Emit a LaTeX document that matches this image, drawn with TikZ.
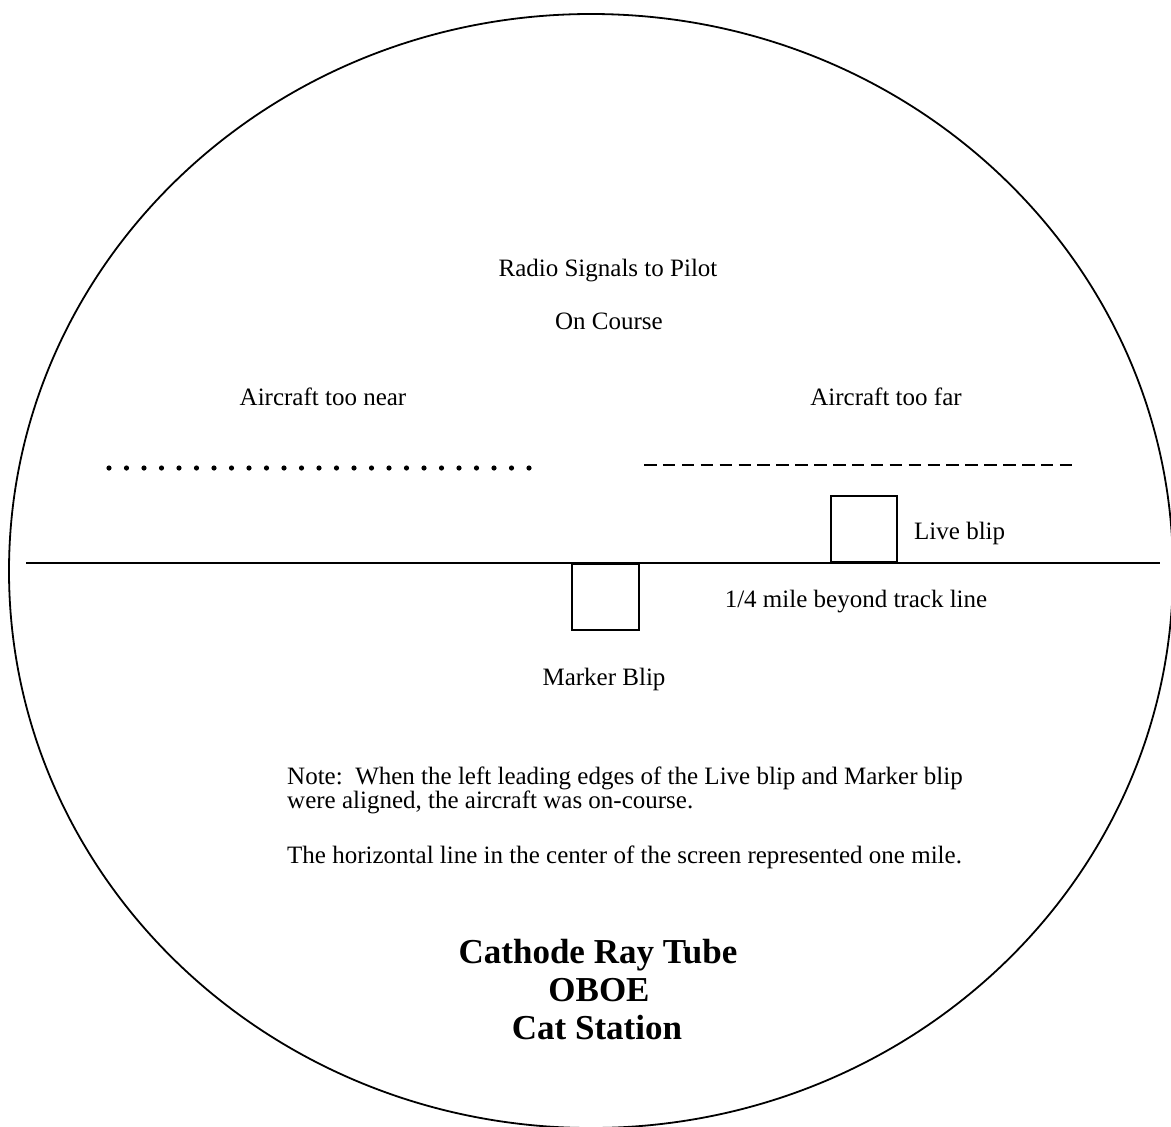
\documentclass[tikz,border=0pt]{standalone}
\usepackage{fontspec}
\setmainfont{Liberation Serif}
\begin{document}
\begin{tikzpicture}[x=1pt,y=-1pt,
  lbl/.style={inner sep=0pt,anchor=base,font=\fontsize{25}{29}\selectfont},
  ttl/.style={inner sep=0pt,anchor=base,font=\fontsize{35}{40}\selectfont\bfseries},
  blip/.style={draw,line width=1.8pt,inner sep=0pt},
  thin/.style={line width=1.8pt}]
\useasboundingbox (0,0) rectangle (1171,1127);
\clip (0,0) rectangle (1171,1127);
% screen
\draw[thin] (591,571) ellipse [x radius=582, y radius=557];
% track line
\coordinate (tl) at (26,563);
\coordinate (tr) at (1160,563);
\draw[thin] (tl) -- (tr);
% blips
\node[blip,minimum width=66pt,minimum height=66pt,anchor=south west] (live) at (830,563) {};
\node[blip,minimum width=67pt,minimum height=66pt,anchor=north west] (marker) at (571,563) {};
% dotted signal
\foreach \i in {0,...,24} \fill (109+17.5*\i,468) circle (2.6);
% dashed signal
\coordinate (da) at (644,465);
\coordinate (db) at (1072,465);
\draw[line width=2pt,dash pattern=on 12.5pt off 6.4pt] (da) -- (db);
% labels
\node[lbl] (radio) at (608,276) {Radio Signals to Pilot};
\node[lbl] (onc) at (609,329) {On Course};
\node[lbl] (near) at (323,405) {Aircraft too near};
\node[lbl] (far) at (886,405) {Aircraft too far};
\node[lbl,anchor=base west] (livel) at (914,539) {Live blip};
\node[lbl] (quarter) at (856,607) {1/4 mile beyond track line};
\node[lbl] (markerl) at (604,685) {Marker Blip};
\node[lbl,anchor=base west] (note1) at (287,784) {Note:\ \ When the left leading edges of the Live blip and Marker blip};
\node[lbl,anchor=base west] (note2) at (287,808) {were aligned, the aircraft was on-course.};
\node[lbl,anchor=base west] (note3) at (287,863) {The horizontal line in the center of the screen represented one mile.};
\node[ttl] (t1) at (598,963) {Cathode Ray Tube};
\node[ttl] (t2) at (599,1001) {OBOE};
\node[ttl] (t3) at (597,1039) {Cat Station};
\end{tikzpicture}
\end{document}
